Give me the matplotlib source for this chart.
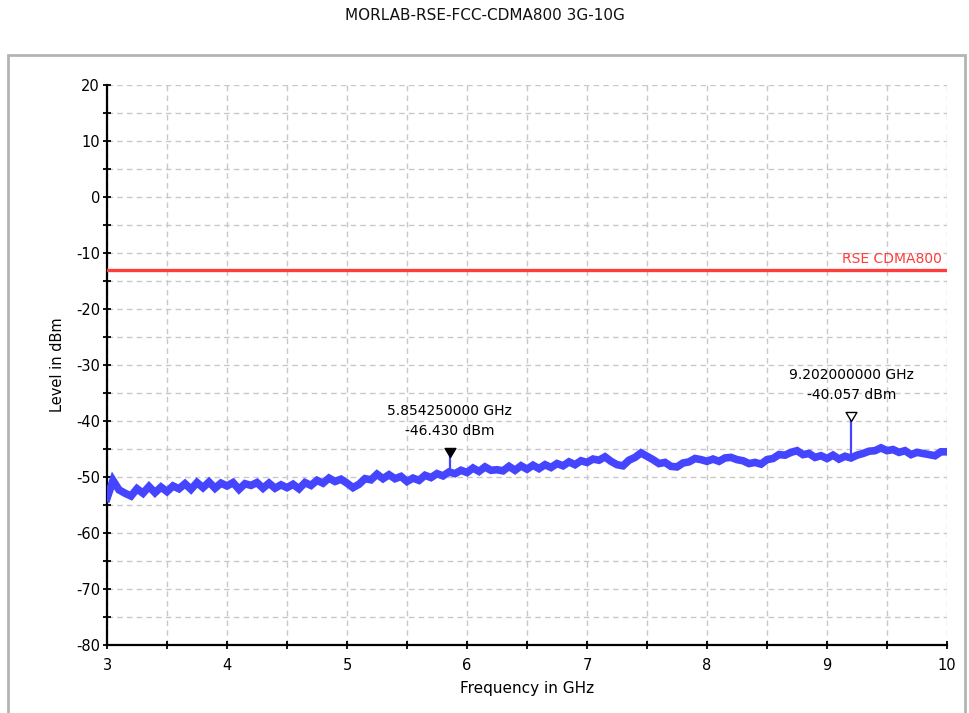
import numpy as np
import matplotlib
matplotlib.use("Agg")
import matplotlib.pyplot as plt
from matplotlib.path import Path
from matplotlib.patches import Rectangle
from matplotlib.ticker import MultipleLocator

plt.rcParams["axes.unicode_minus"] = False

# measured trace (dBm), sweep 3 GHz .. 10 GHz, one value every 50 MHz
level = [
    -53.8, -50.6, -52.3, -52.9, -53.4, -52.1, -52.9, -51.7, -52.8, -51.8,
    -52.6, -51.6, -52.1, -51.2, -52.2, -51.0, -51.9, -50.9, -52.0, -51.1,
    -51.6, -51.0, -52.2, -51.2, -51.5, -51.0, -52.0, -51.1, -52.0, -51.4,
    -51.9, -51.3, -52.1, -51.0, -51.5, -50.6, -51.1, -50.2, -50.8, -50.4,
    -51.1, -51.9, -51.3, -50.3, -50.5, -49.5, -50.3, -49.6, -50.3, -49.9,
    -50.8, -50.2, -50.6, -49.7, -50.1, -49.4, -49.8, -49.1, -49.4, -48.8,
    -49.2, -48.4, -49.0, -48.2, -48.8, -48.7, -48.9, -48.1, -48.8, -48.0,
    -48.6, -47.9, -48.5, -47.8, -48.3, -47.6, -48.0, -47.3, -47.8, -47.1,
    -47.4, -46.8, -47.0, -46.4, -47.2, -47.8, -48.0, -47.0, -46.5, -45.7,
    -46.3, -46.9, -47.6, -47.4, -48.1, -48.2, -47.5, -47.3, -46.7, -46.9,
    -47.2, -46.8, -47.2, -46.6, -46.5, -46.9, -47.1, -47.6, -47.4, -47.7,
    -46.9, -46.7, -46.0, -46.1, -45.6, -45.3, -46.0, -45.8, -46.5, -46.2,
    -46.7, -46.1, -46.8, -46.3, -46.6, -46.1, -45.8, -45.4, -45.3, -44.8,
    -45.3, -45.1, -45.6, -45.3, -46.0, -45.6, -45.8, -46.0, -46.2, -45.5,
    -45.5,
]
freq = np.linspace(3.0, 10.0, len(level))

limit_level = -13.0
limit_label = "RSE CDMA800"

mk_freq = [5.85425, 9.202]
mk_level = [-46.430, -40.057]
mk_text = ["5.854250000 GHz\n-46.430 dBm", "9.202000000 GHz\n-40.057 dBm"]
mk_filled = [True, False]

W, H = 970, 713
fig = plt.figure(figsize=(W / 100, H / 100), dpi=100)
fig.patch.set_facecolor("white")

# outer panel frame
fig.patches.append(Rectangle((8 / W, -0.05), 957 / W, (713 - 55) / H + 0.05,
                             transform=fig.transFigure, fill=False,
                             edgecolor="#b4b4b4", lw=2.0))

fig.text(0.5, 1 - 16 / H, "MORLAB-RSE-FCC-CDMA800 3G-10G", ha="center",
         va="center", fontsize=11, color="#111111")

ax = fig.add_axes([107 / W, 1 - 645 / H, 840 / W, 560 / H])
ax.set_xlim(3, 10)
ax.set_ylim(-80, 20)

ax.xaxis.set_major_locator(MultipleLocator(1))
ax.xaxis.set_minor_locator(MultipleLocator(0.5))
ax.yaxis.set_major_locator(MultipleLocator(10))
ax.yaxis.set_minor_locator(MultipleLocator(5))
ax.grid(True, which="both", color="#c8c8c8", linestyle=(0, (4, 3)), lw=1.0)
ax.set_axisbelow(True)

for s in ["top", "right"]:
    ax.spines[s].set_visible(False)
for s in ["left", "bottom"]:
    ax.spines[s].set_linewidth(1.6)

ax.tick_params(which="both", direction="inout", length=6, width=1.3,
               labelsize=10.5, colors="black")
ax.tick_params(axis="x", pad=6)
ax.tick_params(axis="y", pad=2)

ax.set_xlabel("Frequency in GHz", fontsize=11, labelpad=6)
ax.set_ylabel("Level in dBm", fontsize=10.5, labelpad=8)

# limit line
ax.axhline(limit_level, color="#ff3c3c", lw=2.4, zorder=3)
ax.text(9.96, limit_level + 0.6, limit_label, color="#ff3c3c", ha="right",
        va="bottom", fontsize=10)

# trace
blue = "#4545ff"
ax.plot(freq, level, color=blue, lw=5.5, solid_joinstyle="miter", zorder=4)

# markers
tri = Path([(0, 0), (-0.6, 1), (0.6, 1), (0, 0)],
           [Path.MOVETO, Path.LINETO, Path.LINETO, Path.CLOSEPOLY])
for f, lv, txt, filled in zip(mk_freq, mk_level, mk_text, mk_filled):
    base = np.interp(f, freq, level)
    ax.plot([f, f], [base, lv], color=blue, lw=1.6, zorder=5)
    ax.plot(f, lv, marker=tri, markersize=13, linestyle="none",
            markerfacecolor="black" if filled else "white",
            markeredgecolor="black", markeredgewidth=1.0, zorder=6)
    ax.annotate(txt, (f, lv), xytext=(0, 14), textcoords="offset points",
                ha="center", va="bottom", fontsize=10, linespacing=1.55,
                zorder=6)

fig.savefig("out.png", dpi=100)
